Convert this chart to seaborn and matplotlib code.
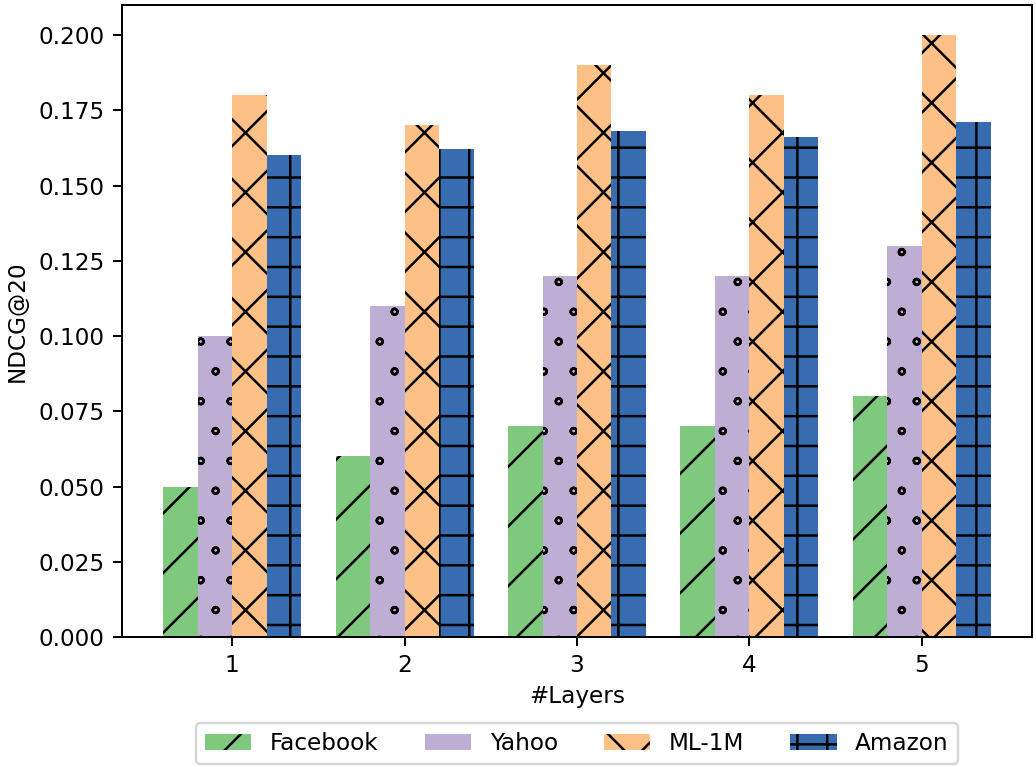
import matplotlib
matplotlib.use("Agg")
import matplotlib.pyplot as plt
import matplotlib.hatch
from matplotlib.path import Path
from matplotlib.patches import Patch
import numpy as np
import pandas as pd
import seaborn as sns

# Layer counts on the x axis
layers = ["1", "2", "3", "4", "5"]
datasets = ["Facebook", "Yahoo", "ML-1M", "Amazon"]

# NDCG@20 per dataset for each number of layers
facebook = [0.05, 0.06, 0.07, 0.07, 0.08]
yahoo = [0.10, 0.11, 0.12, 0.12, 0.13]
ml1m = [0.18, 0.17, 0.19, 0.18, 0.20]
amazon = [0.160, 0.162, 0.168, 0.166, 0.171]

colors = ["#7fc97f", "#beaed4", "#fdc086", "#386cb0"]
hatches = ["/", "o", "x", "+"]

W, H, DPI = 1036, 767, 179

# smaller rings, and hatch patterns nudged inside their repeating tile
matplotlib.hatch.SmallCircles.size = 0.1
DU, DV = 6.8 / int(DPI), -13.4 / int(DPI)
_hatch_path = matplotlib.hatch.get_path


def _shifted_hatch_path(hatchpattern, density=6):
    p = _hatch_path(hatchpattern, density)
    verts = p.vertices.copy()
    if set(hatchpattern) <= set("+-|"):
        # straight grid lines: move each line only across its own direction
        seg = verts.reshape(-1, 2, 2)
        horiz = np.isclose(seg[:, 0, 1], seg[:, 1, 1])
        seg[horiz, :, 1] += DV
        seg[~horiz, :, 0] += DU
        verts = seg.reshape(-1, 2)
    else:
        verts += (DU, DV)
    return Path(verts, p.codes)


matplotlib.hatch.get_path = _shifted_hatch_path

plt.rcParams["font.size"] = 9.3

rows = []
for name, vals in zip(datasets, [facebook, yahoo, ml1m, amazon]):
    for layer, v in zip(layers, vals):
        rows.append({"Layers": layer, "Dataset": name, "NDCG@20": v})
df = pd.DataFrame(rows)

fig = plt.figure(figsize=(W / DPI, H / DPI), dpi=DPI)
ax = fig.add_axes([122 / W, (H - 637) / H, (1032 - 122) / W, (637 - 5) / H])

sns.barplot(data=df, x="Layers", y="NDCG@20", hue="Dataset",
            hue_order=datasets, order=layers, palette=colors, saturation=1,
            errorbar=None, legend=False, ax=ax)

for container, hatch in zip(ax.containers, hatches):
    for bar in container:
        bar.set_hatch(hatch)
        bar.set_edgecolor("black")
        bar.set_linewidth(0)

ax.set_xlim(-0.64, 4.64)
ax.set_ylim(0, 0.21)
ax.set_xlabel("#Layers", labelpad=3)
ax.set_ylabel("NDCG@20")

handles = [Patch(facecolor=c, edgecolor="black", linewidth=0, hatch=h)
           for c, h in zip(colors, hatches)]
ax.legend(handles, datasets, loc="upper center", bbox_to_anchor=(0.5, -0.117),
          ncol=4)

fig.savefig("out.png", dpi=DPI)
